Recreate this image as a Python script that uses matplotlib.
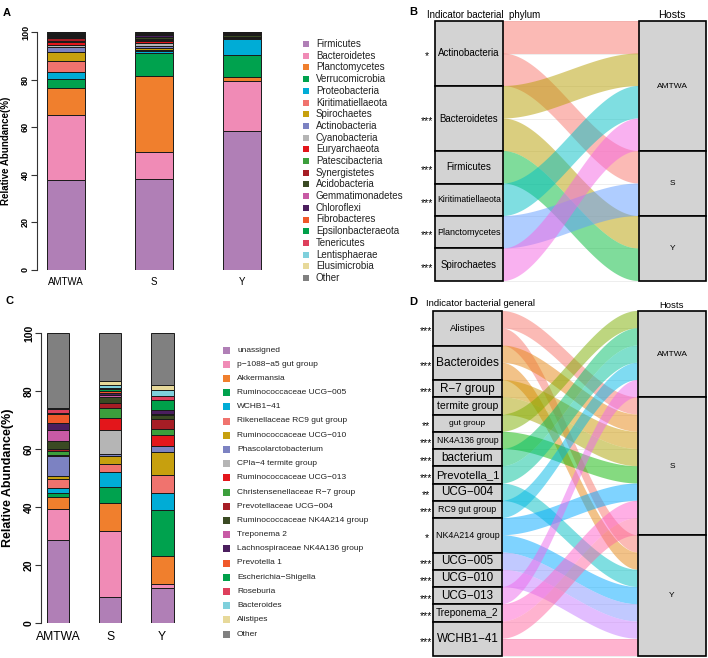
import numpy as np
import matplotlib
matplotlib.use("Agg")
import matplotlib.pyplot as plt
from matplotlib.patches import Rectangle, Polygon
from matplotlib.transforms import offset_copy

plt.rcParams['font.family'] = ['Liberation Sans', 'DejaVu Sans']

# ---------------- data ----------------
groups = ["AMTWA", "S", "Y"]

phyla = ["Firmicutes", "Bacteroidetes", "Planctomycetes", "Verrucomicrobia", "Proteobacteria",
         "Kiritimatiellaeota", "Spirochaetes", "Actinobacteria", "Cyanobacteria", "Euryarchaeota",
         "Patescibacteria", "Synergistetes", "Acidobacteria", "Gemmatimonadetes", "Chloroflexi",
         "Fibrobacteres", "Epsilonbacteraeota", "Tenericutes", "Lentisphaerae", "Elusimicrobia", "Other"]
phylum_AMTWA = [37.7, 27.6, 11.0, 4.1, 2.9, 4.4, 4.0, 1.8, 1.0, 1.5, 0.3, 1.0, 0.6, 0.3, 0.6, 0.4, 0.2, 0.3, 0.1, 0.1, 0.1]
phylum_S = [38.1, 11.3, 32.3, 9.6, 0.8, 0.5, 0.6, 1.0, 1.2, 0.8, 0.4, 0.4, 0.8, 0.3, 0.5, 0.3, 0.4, 0.3, 0.1, 0.1, 0.2]
phylum_Y = [58.3, 21.3, 1.4, 9.2, 7.0, 0.1, 0.1, 0.1, 0.1, 0.1, 0.2, 0.2, 0.8, 0.1, 0.3, 0.1, 0.3, 0.1, 0.1, 0.05, 0.05]

genera = ["unassigned", "p\u22121088\u2212a5 gut group", "Akkermansia", "Ruminococcaceae UCG\u2212005",
          "WCHB1\u221241", "Rikenellaceae RC9 gut group", "Ruminococcaceae UCG\u2212010",
          "Phascolarctobacterium", "CPla\u22124 termite group", "Ruminococcaceae UCG\u2212013",
          "Christensenellaceae R\u22127 group", "Prevotellaceae UCG\u2212004",
          "Ruminococcaceae NK4A214 group", "Treponema 2", "Lachnospiraceae NK4A136 group",
          "Prevotella 1", "Escherichia\u2212Shigella", "Roseburia", "Bacteroides", "Alistipes", "Other"]
genus_AMTWA = [28.6, 10.6, 4.3, 1.2, 1.8, 3.1, 1.0, 6.9, 0.2, 0.2, 1.3, 0.8, 2.6, 4.0, 2.2, 3.3, 0.3, 1.4, 0.2, 0.2, 25.8]
genus_S = [8.9, 22.7, 9.8, 5.4, 5.3, 2.7, 2.7, 0.7, 8.3, 4.2, 3.6, 1.7, 1.8, 0.7, 0.9, 0.7, 0.5, 0.5, 1.1, 1.3, 16.5]
genus_Y = [12.2, 1.4, 9.5, 16.0, 5.6, 6.3, 8.0, 1.9, 0.1, 3.9, 2.1, 3.4, 1.3, 0.4, 1.2, 0.2, 3.5, 1.4, 2.0, 1.8, 17.8]

hosts = ["AMTWA", "S", "Y"]
ind_phyla = ["Actinobacteria", "Bacteroidetes", "Firmicutes", "Kiritimatiellaeota", "Planctomycetes", "Spirochaetes"]
ind_phyla_hosts = [["AMTWA", "S"], ["AMTWA", "Y"], ["Y"], ["AMTWA"], ["S"], ["AMTWA"]]
ind_phyla_stars = ["*", "***", "***", "***", "***", "***"]

ind_genera = ["Alistipes", "Bacteroides", "R\u22127 group", "termite group", "gut group", "NK4A136 group",
              "bacterium", "Prevotella_1", "UCG\u2212004", "RC9 gut group", "NK4A214 group",
              "UCG\u2212005", "UCG\u2212010", "UCG\u2212013", "Treponema_2", "WCHB1\u221241"]
ind_genera_hosts = [["S", "Y"], ["S", "Y"], ["S"], ["S"], ["AMTWA"], ["S"], ["AMTWA"], ["AMTWA"], ["Y"],
                    ["AMTWA"], ["S", "Y"], ["Y"], ["Y"], ["AMTWA"], ["S"], ["S", "Y"]]
ind_genera_stars = ["***", "***", "***", "", "**", "***", "***", "***", "**", "***", "*",
                    "***", "***", "***", "***", "***"]

# ---------------- styles ----------------
bar_colors = ["#B07FB6", "#F08BB6", "#F07F2D", "#00A24E", "#00ACD6", "#F0736E", "#C7A00E", "#7C82C2",
              "#B5B5B5", "#E3161B", "#3C9F3C", "#A61D25", "#3A4A23", "#C85AA5", "#4B1E5E", "#F0582A",
              "#00A04A", "#DE3F5C", "#7FD0DC", "#E7D99A", "#808080"]
hue6 = ["#F8766D", "#B79F00", "#00BA38", "#00BFC4", "#619CFF", "#F564E3"]
hue16 = ["#F8766D", "#E68613", "#CD9600", "#ABA300", "#7CAE00", "#0CB702", "#00BE67", "#00C19A",
         "#00BFC4", "#00B8E7", "#00A9FF", "#8494FF", "#C77CFF", "#ED68ED", "#FF61CC", "#FF68A1"]
phyla_fs = [7.0, 6.9, 7.0, 6.2, 6.5, 6.9]
genera_fs = [6.8, 8.6, 8.4, 7.5, 6.1, 6.2, 8.5, 8.2, 8.4, 6.4, 6.4, 8.4, 8.4, 8.4, 7.3, 8.4]

W, H = 708, 658
fig = plt.figure(figsize=(W / 100, H / 100), dpi=100)


def px_axes(x0, x1, y0, y1):
    return fig.add_axes([x0 / W, 1 - y1 / H, (x1 - x0) / W, (y1 - y0) / H])


def lims(p0, p1, d0, d1, q0, q1):
    s = (d1 - d0) / (p1 - p0)
    return d0 + (q0 - p0) * s, d0 + (q1 - p0) * s


def stacked(ax, series, width, tick_fs, lab_fs, xlab_fs, xpad):
    x = np.arange(len(groups))
    for gi, vals in enumerate(series):
        bottom = 0.0
        for k, v in enumerate(vals):
            ax.bar(x[gi], v, bottom=bottom, width=width, color=bar_colors[k],
                   edgecolor="#1a1a1a", linewidth=0.7, zorder=2)
            bottom += v
    ax.set_ylim(0, 100)
    for sp in ["top", "right", "bottom"]:
        ax.spines[sp].set_visible(False)
    ax.spines["left"].set_linewidth(0.8)
    ax.spines["left"].set_color("#333333")
    ax.set_yticks([0, 20, 40, 60, 80, 100])
    ax.set_yticklabels(["0", "20", "40", "60", "80", "100"], fontsize=tick_fs, fontweight="bold",
                       rotation=90, va="center")
    ax.tick_params(axis="y", length=4, width=0.8, pad=1, color="#333333")
    ax.set_xticks(x)
    ax.set_xticklabels(groups, fontsize=xlab_fs)
    ax.tick_params(axis="x", length=0, pad=xpad)
    ax.set_facecolor("none")


# Panel A
axA = px_axes(37, 275, 32, 270)
axA.set_xlim(*lims(65.8, 241.8, 0, 2, 37, 275))
stacked(axA, [phylum_AMTWA, phylum_S, phylum_Y], 0.432, 6.5, 7, 7, 5)

# Panel C
axC = px_axes(41, 195, 333, 623)
axC.set_xlim(*lims(58, 162.2, 0, 2, 41, 195))
stacked(axC, [genus_AMTWA, genus_S, genus_Y], 0.434, 7.5, 9, 8.7, 6)


def alluvial(ax, names, dests, colors, name_fs, stars, star_off, host_fs):
    w = 1 / 3
    n = sum(len(d) for d in dests)
    flows = []
    top = n
    left_boxes = []
    for i, d in enumerate(dests):
        ds = sorted(d, key=hosts.index)
        left_boxes.append((top - len(ds), len(ds)))
        for k, h in enumerate(ds):
            flows.append([i, h, top - k - 1, top - k])
        top -= len(ds)
    top = n
    right_boxes = []
    for h in hosts:
        fl = sorted([f for f in flows if f[1] == h], key=lambda f: f[0])
        right_boxes.append((top - len(fl), len(fl)))
        for k, f in enumerate(fl):
            f.extend([top - k - 1, top - k])
        top -= len(fl)
    for yv in range(n + 1):
        ax.plot([1, 2], [yv, yv], color="#EBEBEB", lw=0.6, zorder=0)
    t = np.linspace(0, 1, 80)
    s = t * t * (3 - 2 * t)
    xs = 1 + w / 2 + (1 - w) * t
    for f in flows:
        i, h, l0, l1, r0, r1 = f
        ytop = l1 + (r1 - l1) * s
        ybot = l0 + (r0 - l0) * s
        poly = np.column_stack([np.r_[xs, xs[::-1]], np.r_[ytop, ybot[::-1]]])
        ax.add_patch(Polygon(poly, closed=True, fc=colors[i], alpha=0.5, ec="none", zorder=1))
    star_tr = offset_copy(ax.transData, fig=fig, y=-3, units="dots")
    for i, (b, u) in enumerate(left_boxes):
        ax.add_patch(Rectangle((1 - w / 2, b), w, u, fc="#D3D3D3", ec="black", lw=1.2, zorder=3))
        ax.text(1, b + u / 2, names[i], ha="center", va="center", fontsize=name_fs[i], zorder=4)
        if stars[i]:
            ax.text(1 - w / 2 - star_off, b + u / 2, stars[i], ha="center", va="center",
                    fontsize=7.5, transform=star_tr)
    for j, (b, u) in enumerate(right_boxes):
        ax.add_patch(Rectangle((2 - w / 2, b), w, u, fc="#D3D3D3", ec="black", lw=1.2, zorder=3))
        ax.text(2, b + u / 2, hosts[j], ha="center", va="center", fontsize=host_fs, zorder=4)
    ax.axis("off")


# Panel B
axB = px_axes(420, 708, 0, 290)
axB.set_xlim(*lims(469, 672.5, 1, 2, 420, 708))
axB.set_ylim(*lims(281, 21, 0, 8, 290, 0))
alluvial(axB, ind_phyla, ind_phyla_hosts, hue6, phyla_fs, ind_phyla_stars, 8 / 203.5, 6)

# Panel D
axD = px_axes(420, 708, 295, 658)
axD.set_xlim(*lims(467.5, 672, 1, 2, 420, 708))
axD.set_ylim(*lims(656, 311, 0, 20, 658, 295))
alluvial(axD, ind_genera, ind_genera_hosts, hue16, genera_fs, ind_genera_stars, 7 / 204.5, 6)

# ---------------- overlay: legends, labels ----------------
ov = fig.add_axes([0, 0, 1, 1])
ov.set_xlim(0, W)
ov.set_ylim(H, 0)
ov.axis("off")

for k, name in enumerate(phyla):
    yy = 44 + 11.7 * k
    ov.add_patch(Rectangle((303, yy - 3), 6, 6, fc=bar_colors[k], ec="none"))
    ov.text(316, yy, name, fontsize=7, va="center", ha="left", color="#222222")

for k, name in enumerate(genera):
    yy = 350 + 14.2 * k
    ov.add_patch(Rectangle((223, yy - 3.5), 7, 7, fc=bar_colors[k], ec="none"))
    ov.text(237, yy, name, fontsize=6, va="center", ha="left", color="#222222")

ov.text(6.5, 151, "Relative Abundance(%)", rotation=90, ha="center", va="center", fontsize=7,
        fontweight="bold")
ov.text(8, 478, "Relative Abundance(%)", rotation=90, ha="center", va="center", fontsize=9,
        fontweight="bold")

for lab, (xx, yy) in zip(["A", "B", "C", "D"], [(7, 13), (413, 12), (9, 301), (413, 302)]):
    ov.text(xx, yy, lab, fontsize=8, fontweight="bold", ha="center", va="center")

ov.text(427, 15, "Indicator bacterial  phylum", fontsize=7, ha="left", va="center")
ov.text(672, 15, "Hosts", fontsize=7.7, ha="center", va="center")
ov.text(426, 303, "Indicator bacterial general", fontsize=6.8, ha="left", va="center")
ov.text(672, 305, "Hosts", fontsize=6.8, ha="center", va="center")

fig.savefig("out.png", dpi=100)
